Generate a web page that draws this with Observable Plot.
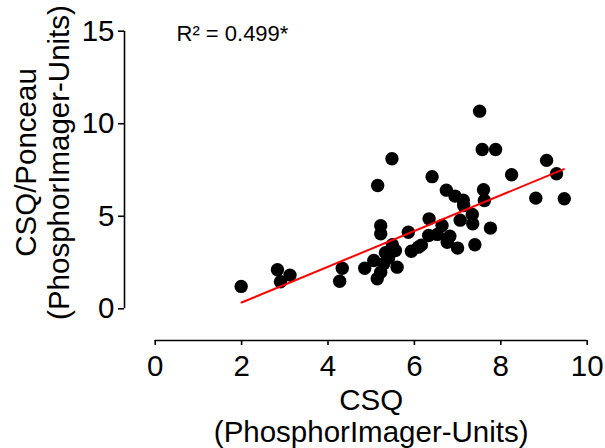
<!DOCTYPE html>
<html><head><meta charset="utf-8">
<script src="https://cdn.jsdelivr.net/npm/d3@7"></script>
<script src="https://cdn.jsdelivr.net/npm/@observablehq/plot@0.6"></script>
<style>body{margin:0;background:#fff}</style>
</head><body><div id="chart"></div>
<script>
// CSQ (PhosphorImager-Units) values for each sample
const csq = [1.99, 2.83, 2.90, 3.12, 4.33, 4.27, 4.85, 5.14, 5.22, 5.29,
  5.06, 5.60, 5.33, 5.49, 5.56, 5.40, 5.93, 6.09, 6.16, 6.33,
  6.53, 6.82, 6.76, 7.00, 7.40, 5.22, 5.22, 5.86, 6.34, 6.64,
  7.06, 7.35, 7.34, 7.76, 7.14, 7.13, 6.94, 6.74, 7.60, 7.62,
  8.81, 9.47, 6.41, 5.15, 8.25, 9.29, 9.06, 5.48, 7.57, 7.88, 7.51];
// CSQ/Ponceau values for each sample
const ratio = [1.21, 2.11, 1.46, 1.82, 2.19, 1.49, 2.19, 1.62, 1.98, 2.43,
  2.61, 2.25, 3.03, 3.46, 3.15, 2.75, 3.11, 3.33, 3.44, 3.96,
  4.02, 3.92, 3.60, 3.28, 3.46, 4.05, 4.49, 4.14, 4.86, 4.50,
  4.79, 4.59, 5.10, 4.36, 5.58, 5.87, 6.09, 6.41, 6.43, 5.85,
  5.98, 5.95, 7.14, 6.66, 7.24, 7.30, 8.02, 8.11, 8.61, 8.61, 10.68];
// regression line end points
const fitX = [2.0, 9.46];
const fitY = [0.34, 7.55];
const xTicks = [0, 2, 4, 6, 8, 10];
const yTicks = [0, 5, 10, 15];
const r2Label = "R² = 0.499*";
const xTitle = ["CSQ", "(PhosphorImager-Units)"];
const yTitle = ["CSQ/Ponceau", "(PhosphorImager-Units)"];

const points = csq.map((x, i) => ({x, y: ratio[i]}));
const fit = fitX.map((x, i) => ({x, y: fitY[i]}));

const font = "'Liberation Sans', Arial, sans-serif";
const fs = 29.5;
const chart = Plot.plot({
  width: 605,
  height: 448,
  marginLeft: 154.7,
  marginRight: 18.3,
  marginTop: 30.7,
  marginBottom: 139.7,
  style: {fontFamily: font, fontSize: fs + "px", background: "#fff", color: "#000", overflow: "visible"},
  x: {domain: [0, 10]},
  y: {domain: [0, 15]},
  marks: [
    Plot.ruleY([0], {x1: 0, x2: 10, dy: 31.7, stroke: "#000", strokeWidth: 1.6}),
    Plot.ruleX([0], {y1: 0, y2: 15, dx: -30.7, stroke: "#000", strokeWidth: 1.6}),
    Plot.axisX({ticks: xTicks, tickSize: 5, tickPadding: 10, dy: 31.7, label: null, fontSize: fs, strokeWidth: 1.6, tickFormat: d => String(d)}),
    Plot.axisY({ticks: yTicks, tickSize: 6, tickPadding: 4, dx: -30.7, label: null, fontSize: fs, strokeWidth: 1.6, tickFormat: d => String(d)}),
    Plot.dot(points, {x: "x", y: "y", r: 6.7, fill: "#000", stroke: "none"}),
    Plot.line(fit, {x: "x", y: "y", stroke: "#ff0000", strokeWidth: 2}),
    Plot.text([r2Label], {frameAnchor: "top-left", dx: 21.3, dy: 2.8, textAnchor: "start", lineAnchor: "middle", fontSize: 22, fill: "#000"}),
    Plot.text([xTitle.join("\n")], {frameAnchor: "bottom", dy: 106.7, textAnchor: "middle", lineAnchor: "middle", lineHeight: 1.08, fontSize: fs, fill: "#000"}),
    Plot.text([yTitle.join("\n")], {frameAnchor: "left", rotate: -90, dx: -113.2, dy: -7.5, textAnchor: "middle", lineAnchor: "middle", lineHeight: 1.12, fontSize: fs, fill: "#000"})
  ]
});
document.getElementById("chart").appendChild(chart);
</script>
</body></html>
